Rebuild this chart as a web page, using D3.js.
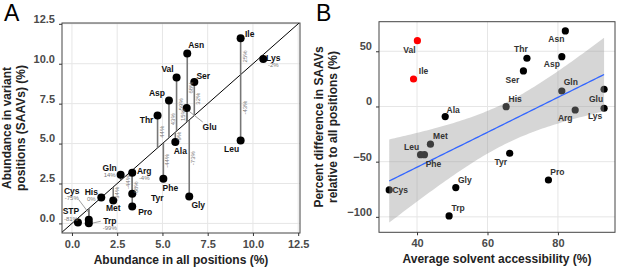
<!DOCTYPE html>
<html>
<head>
<meta charset="utf-8">
<script src="https://cdn.jsdelivr.net/npm/d3@7"></script>
<style>
  body { margin: 0; background: #fff; }
  svg { font-family: "Liberation Sans", Arial, sans-serif; }
  .axis path { display: none; }
  .axis line { stroke: #333; }
  .axis text { fill: #4a4a4a; font-size: 11px; font-weight: bold; }
  .grid line { stroke: #e6e6e6; }
</style>
</head>
<body>
<div id="chart-area"></div>
<script>
// panel A data: abundance in all positions vs in variant positions
const aaA = ["Ile", "Lys", "Asn", "Val", "Ser", "Asp", "Glu", "Thr", "Ala", "Leu", "Phe",
  "Gly", "Tyr", "Pro", "Arg", "Gln", "His", "Met", "Cys", "STP", "Trp"];
const allPos = [9.32, 10.57, 6.37, 5.78, 6.76, 5.36, 6.34, 4.73, 5.71, 9.32, 5.05,
  6.48, 3.33, 3.33, 3.33, 2.69, 1.62, 2.28, 0.93, 0.33, 0.93];
const variantPos = [11.6, 10.3, 10.64, 9.14, 8.86, 7.69, 7.23, 6.75, 5.1, 5.19, 2.79,
  1.69, 1.86, 1.06, 3.17, 3.04, 1.62, 1.44, 0.23, 0.06, 0.01];
const pctDiff = [25, -2, 68, 59, 32, 43, 15, 44, -9, -43, -44,
  -73, -44, -68, -4, 14, 0, -34, -75, -81, -99];
const ticksA = [0, 2.5, 5, 7.5, 10, 12.5];

// panel B data: solvent accessibility vs percent difference
const aaB = ["Val", "Ile", "Ala", "Asn", "Thr", "Asp", "Ser", "Gln", "Glu", "His", "Arg",
  "Lys", "Tyr", "Pro", "Met", "Leu", "Phe", "Cys", "Gly", "Trp"];
const accessibility = [40.1, 39.0, 48.0, 82.1, 71.2, 81.1, 70.2, 81.1, 93.1, 65.3, 84.9,
  93.1, 66.3, 77.3, 43.8, 41.0, 42.1, 32.1, 51.0, 49.1];
const pctSaav = [59.6, 24.9, -9.2, 68.4, 43.7, 45.1, 32.2, 14.0, 15.6, -0.2, -3.2,
  -1.6, -42.4, -66.6, -34.2, -43.7, -43.7, -75.6, -73.5, -99.2];
const outliers = ["Val", "Ile"];
const ticksBx = [40, 60, 80];
const ticksBy = [50, 0, -50, -100];

// label layout (text centre offsets from the point)
const offA = {
  Ile: [9, -4], Lys: [10, -1], Asn: [9, -8], Val: [-9, -8], Ser: [9, -6], Asp: [-12, -8],
  Glu: [23, 19], Thr: [-11, 4], Ala: [5, 9], Leu: [-9, 8], Phe: [7, 9], Gly: [9, 9],
  Tyr: [25, 4], Pro: [13, 6], Arg: [12, -2], Gln: [-11, -7], His: [-10, -6], Met: [0, 8],
  Cys: [-17, -29], STP: [-7, -11], Trp: [21, -2]
};
// r / l = rotated beside the segment, h = under the name
const pctMode = {
  Ile: "r", Lys: "h", Asn: "r", Val: "r", Ser: "r", Asp: "r", Glu: "l", Thr: "r", Ala: "r",
  Leu: "r", Phe: "r", Gly: "r", Tyr: "l", Pro: "r", Arg: "h", Gln: "h", His: "h", Met: "r",
  Cys: "h", STP: "h", Trp: "h"
};
const offB = {
  Val: [-8, 9], Ile: [10, -8], Ala: [8, -7], Asn: [-9, 8], Thr: [-6, -9], Asp: [-10, 7],
  Ser: [-11, 9], Gln: [9, -9], Glu: [-8, 10], His: [9, -8], Arg: [-10, 8], Lys: [-9, 8],
  Tyr: [-9, 9], Pro: [9, -8], Met: [10, -8], Leu: [-9, -8], Phe: [9, 9], Cys: [11, 0],
  Gly: [9, -8], Trp: [9, -8]
};

let svg = d3.select("#chart-area").append("svg")
  .attr("width", 617).attr("height", 269);

// ---------- PANEL A ----------
let xA = d3.scaleLinear().domain([-0.55, 12.6]).range([62, 300]);
let yA = d3.scaleLinear().domain([-0.6, 12.55]).range([233, 23]);

let gA = svg.append("g");
gA.append("defs").append("clipPath").attr("id", "clipA")
  .append("rect").attr("x", 62).attr("y", 23).attr("width", 238).attr("height", 210);

gA.append("g").attr("class", "grid").selectAll("line.v").data(ticksA).enter()
  .append("line").attr("x1", d => xA(d)).attr("x2", d => xA(d)).attr("y1", 23).attr("y2", 233);
gA.append("g").attr("class", "grid").selectAll("line.h").data(ticksA).enter()
  .append("line").attr("y1", d => yA(d)).attr("y2", d => yA(d)).attr("x1", 62).attr("x2", 300);

gA.append("line").attr("clip-path", "url(#clipA)")
  .attr("x1", xA(-0.6)).attr("y1", yA(-0.6)).attr("x2", xA(12.6)).attr("y2", yA(12.6))
  .attr("stroke", "#000").attr("stroke-width", 1);

let rowsA = aaA.map((a, i) => ({ aa: a, x: allPos[i], y: variantPos[i], pct: pctDiff[i] }));

gA.selectAll(".seg").data(rowsA).enter().append("line").attr("class", "seg")
  .attr("x1", d => xA(d.x)).attr("x2", d => xA(d.x))
  .attr("y1", d => yA(d.x)).attr("y2", d => yA(d.y))
  .attr("stroke", "#777").attr("stroke-width", 1.6);

// leader lines
const leaders = { Glu: [[2, 3], [16, 14]], Trp: [[3, 0], [12, -2]], Cys: [[-10, -20], [-1, -8]] };
Object.keys(leaders).forEach(function(k) {
  let d = rowsA.find(r => r.aa === k);
  let p = leaders[k];
  gA.append("line")
    .attr("x1", xA(d.x) + p[0][0]).attr("y1", yA(d.y) + p[0][1])
    .attr("x2", xA(d.x) + p[1][0]).attr("y2", yA(d.y) + p[1][1])
    .attr("stroke", "#888").attr("stroke-width", 0.8);
});

gA.selectAll(".pt").data(rowsA).enter().append("circle").attr("class", "pt")
  .attr("cx", d => xA(d.x)).attr("cy", d => yA(d.y)).attr("r", 4).attr("fill", "#000");

gA.selectAll(".nm").data(rowsA).enter().append("text").attr("class", "nm")
  .attr("x", d => xA(d.x) + offA[d.aa][0]).attr("y", d => yA(d.y) + offA[d.aa][1])
  .attr("dy", "0.35em").attr("text-anchor", "middle")
  .style("font-size", "8.5px").style("font-weight", "bold").style("fill", "#111")
  .text(d => d.aa);

gA.selectAll(".pcth").data(rowsA.filter(d => pctMode[d.aa] === "h")).enter().append("text")
  .attr("x", d => xA(d.x) + offA[d.aa][0]).attr("y", d => yA(d.y) + offA[d.aa][1] + 7)
  .attr("dy", "0.35em").attr("text-anchor", "middle")
  .style("font-size", "6px").style("fill", "#777")
  .text(d => d.pct + "%");

gA.selectAll(".pctr").data(rowsA.filter(d => pctMode[d.aa] !== "h")).enter().append("text")
  .attr("transform", function(d) {
    let cx = xA(d.x) + (pctMode[d.aa] === "r" ? 4 : -4);
    let cy = (yA(d.x) + yA(d.y)) / 2;
    return "translate(" + cx + "," + cy + ") rotate(-90)";
  })
  .attr("dy", "0.35em").attr("text-anchor", "middle")
  .style("font-size", "6px").style("fill", "#777")
  .text(d => d.pct + "%");

gA.append("rect").attr("x", 62).attr("y", 23).attr("width", 238).attr("height", 210)
  .attr("fill", "none").attr("stroke", "#444").attr("stroke-width", 1);

gA.append("g").attr("class", "axis").attr("transform", "translate(0,233)")
  .call(d3.axisBottom(xA).tickValues(ticksA).tickFormat(d3.format(".1f")).tickSize(3).tickPadding(4));
gA.append("g").attr("class", "axis").attr("transform", "translate(62,0)")
  .call(d3.axisLeft(yA).tickValues(ticksA).tickFormat(d3.format(".1f")).tickSize(3).tickPadding(4))
  .selectAll("text").attr("dy", "-0.15em");

gA.append("text").attr("x", 181).attr("y", 264).attr("text-anchor", "middle")
  .style("font-size", "12px").style("font-weight", "bold").style("fill", "#222")
  .text("Abundance in all positions (%)");
let ytA = gA.append("text").attr("transform", "translate(11,128) rotate(-90)")
  .attr("text-anchor", "middle")
  .style("font-size", "12px").style("font-weight", "bold").style("fill", "#222");
ytA.append("tspan").attr("x", 0).attr("y", 0).text("Abundance in variant");
ytA.append("tspan").attr("x", 0).attr("y", 14).text("positions (SAAVs) (%)");

svg.append("text").attr("x", 4).attr("y", 21).style("font-size", "23px").text("A");

// ---------- PANEL B ----------
let xB = d3.scaleLinear().domain([29.2, 96.2]).range([379, 615]);
let yB = d3.scaleLinear().domain([-114, 76.8]).range([232.3, 21.7]);

let gB = svg.append("g");
gB.append("g").attr("class", "grid").selectAll("line").data(ticksBx).enter()
  .append("line").attr("x1", d => xB(d)).attr("x2", d => xB(d)).attr("y1", 21.7).attr("y2", 232.3);
gB.append("g").attr("class", "grid").selectAll("line").data(ticksBy).enter()
  .append("line").attr("y1", d => yB(d)).attr("y2", d => yB(d)).attr("x1", 379).attr("x2", 615);

let rowsB = aaB.map((a, i) => ({ aa: a, x: accessibility[i], y: pctSaav[i] }));

gB.selectAll(".pt").data(rowsB).enter().append("circle")
  .attr("cx", d => xB(d.x)).attr("cy", d => yB(d.y)).attr("r", 3.6)
  .attr("fill", d => outliers.includes(d.aa) ? "#f00" : "#000");

// linear fit with 95% band (outliers excluded)
let fit = rowsB.filter(d => !outliers.includes(d.aa));
let n = fit.length;
let mx = d3.mean(fit, d => d.x), my = d3.mean(fit, d => d.y);
let sxx = d3.sum(fit, d => (d.x - mx) * (d.x - mx));
let sxy = d3.sum(fit, d => (d.x - mx) * (d.y - my));
let slope = sxy / sxx, icpt = my - slope * mx;
let sse = d3.sum(fit, d => Math.pow(d.y - (icpt + slope * d.x), 2));
let s = Math.sqrt(sse / (n - 2));
let tq = 2.1199; // t quantile, df = 16
let xr = d3.extent(fit, d => d.x);
let band = d3.range(0, 81).map(function(i) {
  let x = xr[0] + (xr[1] - xr[0]) * i / 80;
  let f = icpt + slope * x;
  let se = s * Math.sqrt(1 / n + (x - mx) * (x - mx) / sxx);
  return { x: x, f: f, lo: f - tq * se, hi: f + tq * se };
});

gB.append("path").datum(band)
  .attr("d", d3.area().x(d => xB(d.x)).y0(d => yB(d.lo)).y1(d => yB(d.hi)))
  .attr("fill", "#999").attr("fill-opacity", 0.4);
gB.append("path").datum(band)
  .attr("d", d3.line().x(d => xB(d.x)).y(d => yB(d.f)))
  .attr("fill", "none").attr("stroke", "#3366ff").attr("stroke-width", 1.3);

gB.selectAll(".nm").data(rowsB).enter().append("text")
  .attr("x", d => xB(d.x) + offB[d.aa][0]).attr("y", d => yB(d.y) + offB[d.aa][1])
  .attr("dy", "0.35em").attr("text-anchor", "middle")
  .style("font-size", "8.5px").style("font-weight", "bold").style("fill", "#333")
  .text(d => d.aa);

gB.append("rect").attr("x", 379).attr("y", 21.7).attr("width", 236).attr("height", 210.6)
  .attr("fill", "none").attr("stroke", "#444").attr("stroke-width", 1);

gB.append("g").attr("class", "axis").attr("transform", "translate(0,232.3)")
  .call(d3.axisBottom(xB).tickValues(ticksBx).tickSize(3).tickPadding(4));
gB.append("g").attr("class", "axis").attr("transform", "translate(379,0)")
  .call(d3.axisLeft(yB).tickValues(ticksBy).tickFormat(d => d < 0 ? "\u2212" + (-d) : d).tickSize(3).tickPadding(4))
  .selectAll("text").attr("dy", "-0.15em");

gB.append("text").attr("x", 497).attr("y", 263).attr("text-anchor", "middle")
  .style("font-size", "12px").style("font-weight", "bold").style("fill", "#222")
  .text("Average solvent accessibility (%)");
let ytB = gB.append("text").attr("transform", "translate(323,127) rotate(-90)")
  .attr("text-anchor", "middle")
  .style("font-size", "12px").style("font-weight", "bold").style("fill", "#222");
ytB.append("tspan").attr("x", 0).attr("y", 0).text("Percent difference in SAAVs");
ytB.append("tspan").attr("x", 0).attr("y", 14).text("relative to all positions (%)");

svg.append("text").attr("x", 316).attr("y", 21).style("font-size", "23px").text("B");
</script>
</body>
</html>
